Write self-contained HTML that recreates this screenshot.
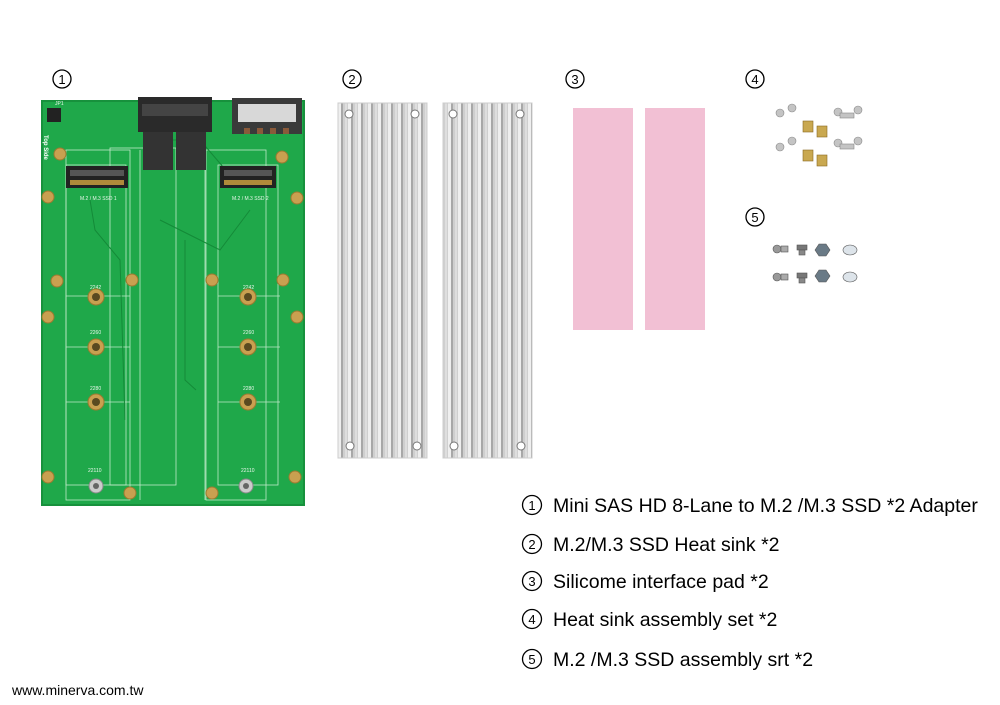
<!DOCTYPE html>
<html><head><meta charset="utf-8"><style>
html,body{margin:0;padding:0;background:#fff;width:1000px;height:705px;overflow:hidden}
svg{display:block}
text{font-family:"Liberation Sans","DejaVu Sans",sans-serif}
</style></head><body>
<svg width="1000" height="705" viewBox="0 0 1000 705" xmlns="http://www.w3.org/2000/svg">
<defs>
<pattern id="fins" x="338" y="0" width="10" height="10" patternUnits="userSpaceOnUse">
<rect width="10" height="10" fill="#cfcfcf"/>
<rect x="0" width="3" height="10" fill="#efefef"/>
<rect x="3" width="2" height="10" fill="#a8a8a8"/>
<rect x="7" width="2" height="10" fill="#dedede"/>
</pattern>
</defs>
<!-- circled numbers -->
<g fill="none" stroke="#000" stroke-width="1.3">
<circle cx="62" cy="79" r="9"/><circle cx="352" cy="79" r="9"/><circle cx="575" cy="79" r="9"/><circle cx="755" cy="79" r="9"/><circle cx="755" cy="217" r="9"/>
<circle cx="532" cy="505" r="9.5"/><circle cx="532" cy="544" r="9.5"/><circle cx="532" cy="581" r="9.5"/><circle cx="532" cy="619" r="9.5"/><circle cx="532" cy="659" r="9.5"/>
</g>
<g font-size="13" fill="#000" text-anchor="middle">
<text x="62" y="84">1</text><text x="352" y="84">2</text><text x="575" y="84">3</text><text x="755" y="84">4</text><text x="755" y="222">5</text>
<text x="532" y="510">1</text><text x="532" y="549">2</text><text x="532" y="586">3</text><text x="532" y="624">4</text><text x="532" y="664">5</text>
</g>
<!-- PCB -->
<rect x="42" y="101" width="262" height="404" fill="#1fa84a"/>
<rect x="42" y="101" width="262" height="404" fill="none" stroke="#17913c" stroke-width="2"/>
<g stroke="#bfe9c9" stroke-width="0.8" fill="none">
<rect x="66" y="150" width="64" height="350"/>
<rect x="206" y="150" width="60" height="350"/>
<rect x="110" y="148" width="66" height="337"/>
<line x1="140" y1="150" x2="140" y2="500"/>
<line x1="205" y1="150" x2="205" y2="500"/>
<line x1="66" y1="296" x2="130" y2="296"/><line x1="66" y1="347" x2="130" y2="347"/><line x1="66" y1="402" x2="130" y2="402"/>
<line x1="218" y1="296" x2="280" y2="296"/><line x1="218" y1="347" x2="280" y2="347"/><line x1="218" y1="402" x2="280" y2="402"/>
<rect x="66" y="165" width="60" height="320"/>
<rect x="218" y="165" width="60" height="320"/>
</g>
<g stroke="#148a38" stroke-width="1" fill="none">
<path d="M90 200 L95 230 L120 260 L125 420"/><path d="M150 150 L160 140 L200 140 L230 175"/><path d="M160 220 L200 240 L220 250 L250 210"/>
<path d="M185 240 L185 380 L196 390"/>
</g>
<rect x="66" y="166" width="62" height="22" fill="#222"/>
<rect x="70" y="170" width="54" height="6" fill="#555"/>
<rect x="70" y="180" width="54" height="5" fill="#b08a3a"/>
<rect x="220" y="166" width="56" height="22" fill="#222"/>
<rect x="224" y="170" width="48" height="6" fill="#555"/>
<rect x="224" y="180" width="48" height="5" fill="#b08a3a"/>
<g font-size="5" fill="#e8f7ea">
<text x="80" y="200">M.2 / M.3 SSD 1</text>
<text x="232" y="200">M.2 / M.3 SSD 2</text>
<text x="90" y="289">2242</text><text x="90" y="334">2260</text><text x="90" y="390">2280</text><text x="88" y="472">22110</text>
<text x="243" y="289">2242</text><text x="243" y="334">2260</text><text x="243" y="390">2280</text><text x="241" y="472">22110</text>
<text x="55" y="105">JP1</text>
</g>
<text transform="translate(44,135) rotate(90)" font-size="6" fill="#fff" font-weight="bold">Top Side</text>
<rect x="138" y="97" width="74" height="35" fill="#2a2a2a"/>
<rect x="142" y="104" width="66" height="12" fill="#444"/>
<rect x="143" y="132" width="30" height="38" fill="#333"/>
<rect x="176" y="132" width="30" height="38" fill="#333"/>
<rect x="232" y="98" width="70" height="36" fill="#3a3a3a"/>
<rect x="238" y="104" width="58" height="18" fill="#d8d8d8"/>
<g fill="#8a5a3a"><rect x="244" y="128" width="6" height="6"/><rect x="257" y="128" width="6" height="6"/><rect x="270" y="128" width="6" height="6"/><rect x="283" y="128" width="6" height="6"/></g>
<rect x="47" y="108" width="14" height="14" fill="#222"/>
<g fill="#c9a050" stroke="#9c7a30" stroke-width="1">
<circle cx="60" cy="154" r="6"/><circle cx="48" cy="197" r="6"/><circle cx="57" cy="281" r="6"/><circle cx="48" cy="317" r="6"/><circle cx="48" cy="477" r="6"/>
<circle cx="132" cy="280" r="6"/><circle cx="96" cy="297" r="8"/><circle cx="96" cy="347" r="8"/><circle cx="96" cy="402" r="8"/>
<circle cx="130" cy="493" r="6"/><circle cx="212" cy="493" r="6"/>
<circle cx="282" cy="157" r="6"/><circle cx="297" cy="198" r="6"/><circle cx="212" cy="280" r="6"/><circle cx="283" cy="280" r="6"/><circle cx="297" cy="317" r="6"/><circle cx="295" cy="477" r="6"/>
<circle cx="248" cy="297" r="8"/><circle cx="248" cy="347" r="8"/><circle cx="248" cy="402" r="8"/>
</g>
<g fill="#5a4a20"><circle cx="96" cy="297" r="4"/><circle cx="96" cy="347" r="4"/><circle cx="96" cy="402" r="4"/><circle cx="248" cy="297" r="4"/><circle cx="248" cy="347" r="4"/><circle cx="248" cy="402" r="4"/></g>
<g fill="#ccc" stroke="#888"><circle cx="96" cy="486" r="7"/><circle cx="246" cy="486" r="7"/></g>
<g fill="#666"><circle cx="96" cy="486" r="3"/><circle cx="246" cy="486" r="3"/></g>
<!-- heat sinks -->
<rect x="338" y="103" width="89" height="355" fill="url(#fins)"/>
<rect x="338" y="103" width="89" height="355" fill="none" stroke="#ccc"/>
<rect x="443" y="103" width="89" height="355" fill="url(#fins)"/>
<rect x="443" y="103" width="89" height="355" fill="none" stroke="#ccc"/>
<g fill="#fff" stroke="#777"><circle cx="349" cy="114" r="4"/><circle cx="415" cy="114" r="4"/><circle cx="350" cy="446" r="4"/><circle cx="417" cy="446" r="4"/>
<circle cx="453" cy="114" r="4"/><circle cx="520" cy="114" r="4"/><circle cx="454" cy="446" r="4"/><circle cx="521" cy="446" r="4"/></g>
<!-- pink pads -->
<rect x="573" y="108" width="60" height="222" fill="#f2c0d4"/>
<rect x="645" y="108" width="60" height="222" fill="#f2c0d4"/>
<!-- screws set 4 -->
<g fill="#c4c4c4" stroke="#888" stroke-width="0.6">
<circle cx="780" cy="113" r="4"/><circle cx="792" cy="108" r="4"/><circle cx="780" cy="147" r="4"/><circle cx="792" cy="141" r="4"/>
<circle cx="838" cy="112" r="4"/><circle cx="858" cy="110" r="4"/><rect x="840" y="113" width="14" height="5"/>
<circle cx="838" cy="143" r="4"/><circle cx="858" cy="141" r="4"/><rect x="840" y="144" width="14" height="5"/>
</g>
<g fill="#c9a850" stroke="#8a6a20" stroke-width="0.6">
<rect x="803" y="121" width="10" height="11"/><rect x="817" y="126" width="10" height="11"/>
<rect x="803" y="150" width="10" height="11"/><rect x="817" y="155" width="10" height="11"/>
</g>
<g stroke="#555" stroke-width="0.6">
<circle cx="777" cy="249" r="4" fill="#999"/><rect x="781" y="246" width="7" height="6" fill="#aaa"/>
<circle cx="777" cy="277" r="4" fill="#999"/><rect x="781" y="274" width="7" height="6" fill="#aaa"/>
<rect x="797" y="245" width="10" height="5" fill="#777"/><rect x="799" y="250" width="6" height="5" fill="#888"/>
<rect x="797" y="273" width="10" height="5" fill="#777"/><rect x="799" y="278" width="6" height="5" fill="#888"/>
<polygon points="815,250 819,244 826,244 830,250 826,256 819,256" fill="#6a7a86"/>
<polygon points="815,276 819,270 826,270 830,276 826,282 819,282" fill="#6a7a86"/>
<ellipse cx="850" cy="250" rx="7" ry="5" fill="#dde4ea"/>
<ellipse cx="850" cy="277" rx="7" ry="5" fill="#dde4ea"/>
</g>
<!-- legend -->
<g font-size="19.5" fill="#000">
<text x="553" y="512">Mini SAS HD 8-Lane to M.2 /M.3 SSD *2 Adapter</text>
<text x="553" y="551">M.2/M.3 SSD Heat sink *2</text>
<text x="553" y="588">Silicome interface pad *2</text>
<text x="553" y="626">Heat sink assembly set *2</text>
<text x="553" y="666">M.2 /M.3 SSD assembly srt *2</text>
</g>
<text x="12" y="695" font-size="14" fill="#000">www.minerva.com.tw</text>
</svg>
</body></html>
